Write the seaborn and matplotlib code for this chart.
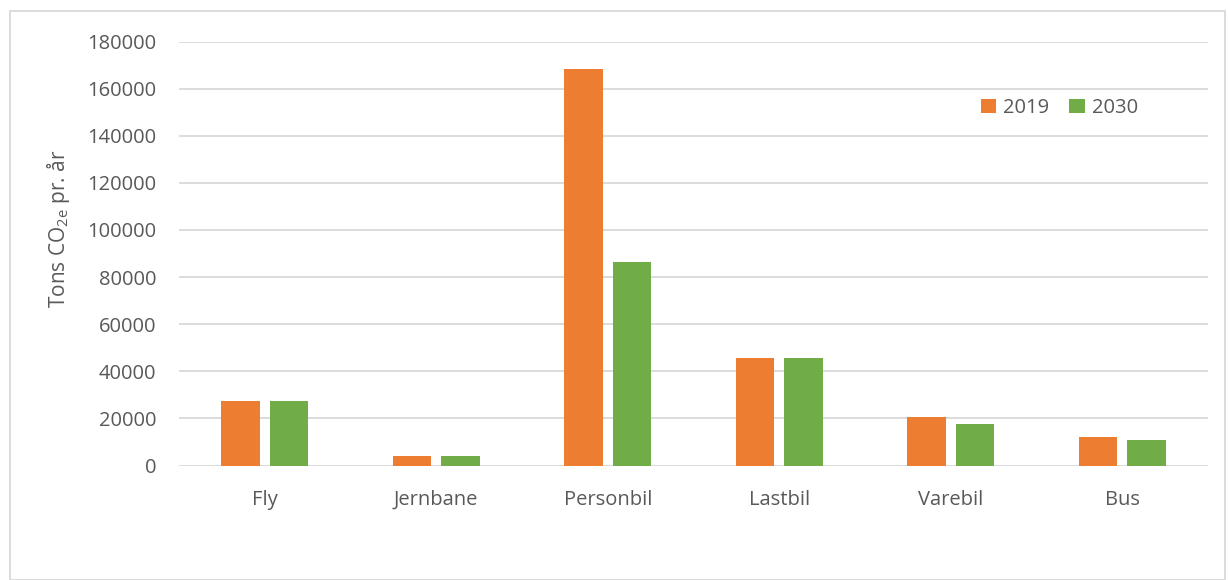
import matplotlib
matplotlib.use("Agg")
import matplotlib.pyplot as plt
import seaborn as sns
import pandas as pd
from matplotlib.patches import Rectangle

categories = ["Fly", "Jernbane", "Personbil", "Lastbil", "Varebil", "Bus"]
values_2019 = [27300, 4200, 168300, 45800, 20700, 12100]
values_2030 = [27300, 4200, 86400, 45800, 17600, 10700]
years = ["2019", "2030"]
yticks = [0, 20000, 40000, 60000, 80000, 100000, 120000, 140000, 160000, 180000]

df = pd.DataFrame({
    "Kategori": categories * 2,
    "År": [years[0]] * len(categories) + [years[1]] * len(categories),
    "Værdi": values_2019 + values_2030,
})

sns.set_theme(style="white")
plt.rcParams["font.family"] = ["Open Sans", "DejaVu Sans"]

W, H = 1228, 580
x0, x1, y0, y1 = 179, 1208, 465.5, 41.5
fig = plt.figure(figsize=(12.28, 5.8), dpi=100)
ax = fig.add_axes([x0 / W, 1 - y0 / H, (x1 - x0) / W, (y0 - y1) / H])

sns.barplot(data=df, x="Kategori", y="Værdi", hue="År", order=categories,
            hue_order=years, palette=["#ED7D31", "#70AD47"], width=0.571,
            gap=0.214, ax=ax, saturation=1, edgecolor="none", linewidth=0)

ax.set_ylim(0, 180000)
ax.set_yticks(yticks)
ax.set_yticklabels([str(v) for v in yticks])
ax.set_xlim(-0.5, len(categories) - 0.5)
ax.yaxis.grid(True, color="#d9d9d9", linewidth=1.3)
ax.set_axisbelow(True)
for s in ax.spines.values():
    s.set_visible(False)
ax.tick_params(axis="both", length=0, colors="#595959", labelsize=14.5)
ax.tick_params(axis="x", pad=17.5)
ax.tick_params(axis="y", pad=16.5)
ax.set_xlabel("")
ax.set_ylabel("Tons CO$_{\\mathregular{2e}}$ pr. år", fontsize=15, color="#595959")
ax.yaxis.set_label_coords((72 - x0) / (x1 - x0), (y0 - 229) / (y0 - y1))

leg = ax.legend(loc="center left", bbox_to_anchor=((981 - x0) / (x1 - x0), (y0 - 108) / (y0 - y1)),
                frameon=False, ncol=2, fontsize=14.5, handlelength=0.75, handleheight=0.75,
                handletextpad=0.35, columnspacing=1.0, borderaxespad=0, borderpad=0)
for t in leg.get_texts():
    t.set_color("#595959")

fig.patches.append(Rectangle((10 / W, 0), (1225 - 10) / W, 1 - 11 / H,
                             transform=fig.transFigure, fill=False,
                             edgecolor="#d9d9d9", linewidth=1.3))

fig.savefig("out.png", dpi=100, facecolor="white")
